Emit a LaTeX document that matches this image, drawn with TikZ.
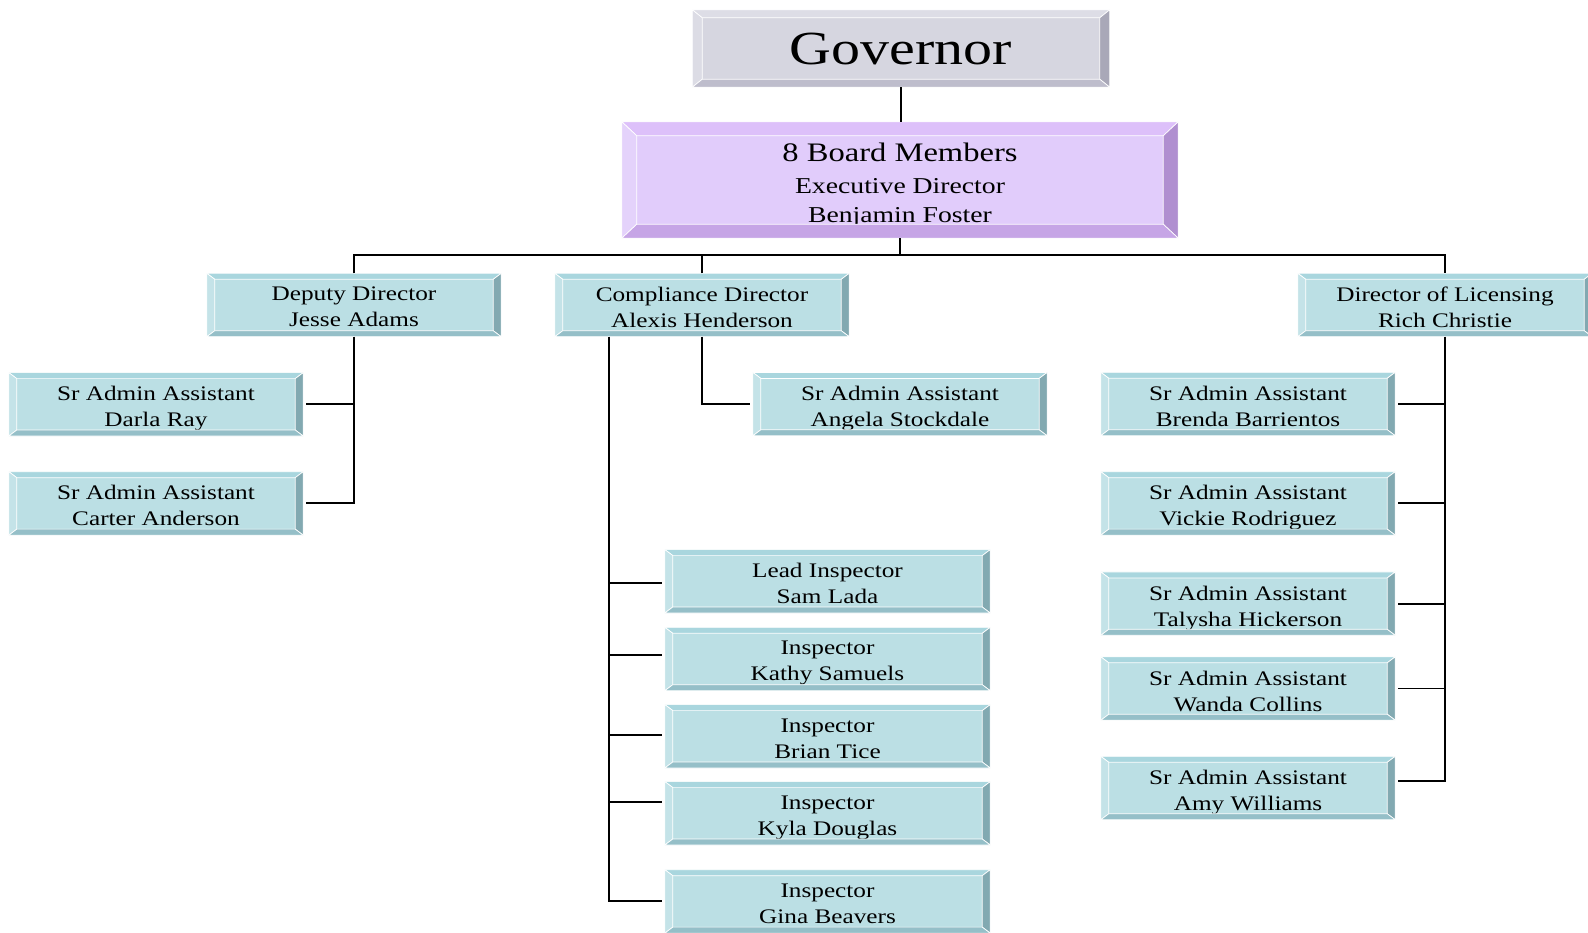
\documentclass[tikz,border=0pt]{standalone}
\usepackage{fontspec}
\setmainfont{Liberation Serif}[FakeStretch=1.22]
\usetikzlibrary{calc}
\definecolor{gvface}{HTML}{D6D6E0}
\definecolor{gvtop}{HTML}{DDDDE6}
\definecolor{gvleft}{HTML}{DCDCE5}
\definecolor{gvright}{HTML}{A9A8B8}
\definecolor{gvbot}{HTML}{BEBDCC}
\definecolor{bdface}{HTML}{E1CCFB}
\definecolor{bdtop}{HTML}{DDC0FA}
\definecolor{bdleft}{HTML}{E4D2FB}
\definecolor{bdright}{HTML}{B08FD0}
\definecolor{bdbot}{HTML}{C6A5E6}
\definecolor{cyface}{HTML}{BBDFE4}
\definecolor{cytop}{HTML}{A9D6DE}
\definecolor{cyleft}{HTML}{C4E3E8}
\definecolor{cyright}{HTML}{82A9B1}
\definecolor{cybot}{HTML}{95BFC8}
\newcommand\bevel[4]{%
  \path[fill=#4top, draw=white, line width=0.7pt] (#1.north west) -- (#1.north east) -- ([shift={(-#2,-#3)}]#1.north east) -- ([shift={(#2,-#3)}]#1.north west) -- cycle;
  \path[fill=#4left, draw=white, line width=0.7pt] (#1.north west) -- ([shift={(#2,-#3)}]#1.north west) -- ([shift={(#2,#3)}]#1.south west) -- (#1.south west) -- cycle;
  \path[fill=#4right, draw=white, line width=0.7pt] (#1.north east) -- ([shift={(-#2,-#3)}]#1.north east) -- ([shift={(-#2,#3)}]#1.south east) -- (#1.south east) -- cycle;
  \path[fill=#4bot, draw=white, line width=0.7pt] (#1.south west) -- ([shift={(#2,#3)}]#1.south west) -- ([shift={(-#2,#3)}]#1.south east) -- (#1.south east) -- cycle;
}
\tikzset{
  govbox/.style={minimum width=417pt, minimum height=77pt, inner sep=0, fill=gvface},
  brdbox/.style={minimum width=556pt, minimum height=116pt, inner sep=0, fill=bdface},
  cybox/.style={minimum width=294pt, minimum height=63pt, inner sep=0, fill=cyface},
  inbox/.style={minimum width=325pt, minimum height=63pt, inner sep=0, fill=cyface},
  txt/.style={anchor=north, align=center, inner sep=0, font=\fontsize{20.7}{26}\selectfont},
  conn/.style={line width=1.9pt, draw=black},
}
\begin{document}
\begin{tikzpicture}[x=1pt,y=1pt]
\useasboundingbox (0,0) rectangle (1588,-933);
% boxes
\node[govbox] (gov) at (901,-48.5) {};
\node[brdbox] (board) at (900,-180) {};
\node[cybox] (dep) at (354,-305) {};
\node[cybox] (cmp) at (702,-305) {};
\node[cybox] (lic) at (1445,-305) {};
\node[cybox] (dar) at (156,-404.3) {};
\node[cybox] (car) at (156,-503.4) {};
\node[cybox] (ang) at (900,-404.1) {};
\node[cybox] (bre) at (1248,-404) {};
\node[cybox] (vic) at (1248,-503.4) {};
\node[cybox] (tal) at (1248,-603.6) {};
\node[cybox] (wan) at (1248,-688.5) {};
\node[cybox] (amy) at (1248,-788) {};
\node[inbox] (lead) at (827.5,-581.3) {};
\node[inbox] (kat) at (827.5,-659) {};
\node[inbox] (bri) at (827.5,-736.3) {};
\node[inbox] (kyl) at (827.5,-813.3) {};
\node[inbox] (gin) at (827.5,-901.4) {};
% texts
\node[anchor=base, inner sep=0, font=\fontsize{47.5}{50}\selectfont] (govt) at ([yshift=-16.5pt]gov.center) {Governor};
\node[txt, font=\fontsize{22.7}{29}\selectfont] (boardt) at ([yshift=37pt]board.center) {{\fontsize{26.7}{32}\selectfont 8 Board Members}\\[3pt] Executive Director\\ Benjamin Foster};
\node[txt] (dept) at ([yshift=18pt]dep.center) {Deputy Director\\ Jesse Adams};
\node[txt] (cmpt) at ([yshift=18pt]cmp.center) {Compliance Director\\ Alexis Henderson};
\node[txt] (lict) at ([yshift=18pt]lic.center) {Director of Licensing\\ Rich Christie};
\node[txt] (dart) at ([yshift=18pt]dar.center) {Sr Admin Assistant\\ Darla Ray};
\node[txt] (cart) at ([yshift=18pt]car.center) {Sr Admin Assistant\\ Carter Anderson};
\node[txt] (angt) at ([yshift=18pt]ang.center) {Sr Admin Assistant\\ Angela Stockdale};
\node[txt] (bret) at ([yshift=18pt]bre.center) {Sr Admin Assistant\\ Brenda Barrientos};
\node[txt] (vict) at ([yshift=18pt]vic.center) {Sr Admin Assistant\\ Vickie Rodriguez};
\node[txt] (talt) at ([yshift=18pt]tal.center) {Sr Admin Assistant\\ Talysha Hickerson};
\node[txt] (want) at ([yshift=18pt]wan.center) {Sr Admin Assistant\\ Wanda Collins};
\node[txt] (amyt) at ([yshift=18pt]amy.center) {Sr Admin Assistant\\ Amy Williams};
\node[txt] (leadt) at ([yshift=18pt]lead.center) {Lead Inspector\\ Sam Lada};
\node[txt] (katt) at ([yshift=18pt]kat.center) {Inspector\\ Kathy Samuels};
\node[txt] (brit) at ([yshift=18pt]bri.center) {Inspector\\ Brian Tice};
\node[txt] (kylt) at ([yshift=18pt]kyl.center) {Inspector\\ Kyla Douglas};
\node[txt] (gint) at ([yshift=18pt]gin.center) {Inspector\\ Gina Beavers};
% bevels
\bevel{gov}{10}{8}{gv}
\bevel{board}{15}{14}{bd}
\foreach \n in {dep,cmp,lic,dar,car,ang,bre,vic,tal,wan,amy,lead,kat,bri,kyl,gin}{\bevel{\n}{8}{6}{cy}}
% connectors
\coordinate (bus) at (0,-255.2);
\coordinate (ct) at ([xshift=54pt]cmp.south west);
\coordinate (leadb) at ([yshift=-2pt]lead.west);
\coordinate (katb) at ([yshift=4pt]kat.west);
\coordinate (brib) at ([yshift=1pt]bri.west);
\coordinate (kylb) at ([yshift=11pt]kyl.west);
\coordinate (amyb) at ([yshift=7pt]amy.east);
\draw[conn] (gov.south) -- (gov.south |- board.north);
\draw[conn] (board.south) -- (board.south |- bus);
\draw[conn] (dep.north) -- (dep.north |- bus) -- (lic.north |- bus) -- (lic.north);
\draw[conn] (cmp.north) -- (cmp.north |- bus);
\draw[conn, shorten >=3pt] (dep.south) |- (car.east);
\draw[conn, shorten <=3pt] (dar.east) -- (dar.east -| dep.south);
\draw[conn, shorten >=3pt] (cmp.south) |- (ang.west);
\draw[conn, shorten >=3pt] (ct) |- (gin.west);
\draw[conn, shorten >=3pt] (ct |- leadb) -- (leadb);
\draw[conn, shorten >=3pt] (ct |- katb) -- (katb);
\draw[conn, shorten >=3pt] (ct |- brib) -- (brib);
\draw[conn, shorten >=3pt] (ct |- kylb) -- (kylb);
\draw[conn, shorten >=3pt] (lic.south) |- (amyb);
\draw[conn, shorten <=3pt] (bre.east) -- (bre.east -| lic.south);
\draw[conn, shorten <=3pt] (vic.east) -- (vic.east -| lic.south);
\draw[conn, shorten <=3pt] (tal.east) -- (tal.east -| lic.south);
\draw[conn, shorten <=3pt] (wan.east) -- (wan.east -| lic.south);
\end{tikzpicture}
\end{document}
